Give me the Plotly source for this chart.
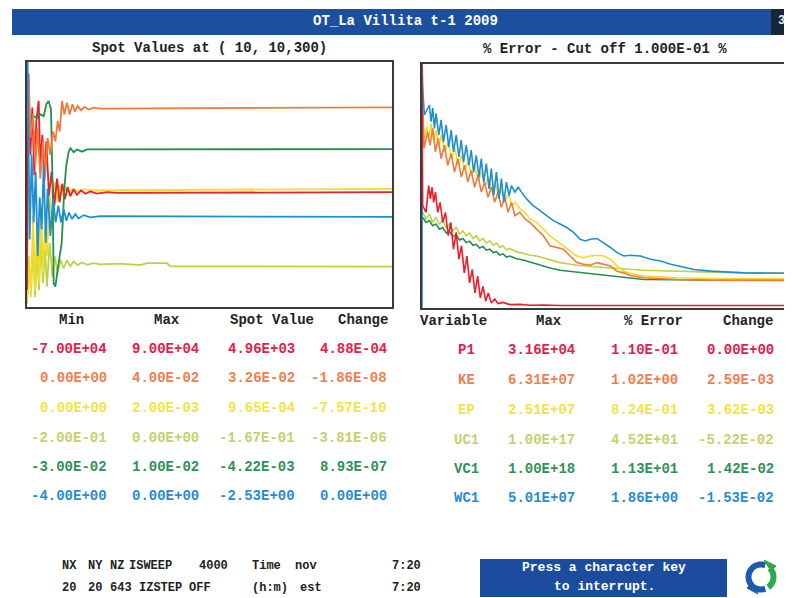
import math
import plotly.graph_objects as go

W, H = 792, 598

# ---------------- table data ----------------
variables = ["P1", "KE", "EP", "UC1", "VC1", "WC1"]
line_colors = ["#e8202c", "#f07a38", "#f2dc28", "#bcd24a", "#23904a", "#1f8fd2"]
text_colors = ["#e2204c", "#ee8050", "#f0e448", "#c6d070", "#2f9158", "#2a8ccf"]

spot_min = [-7.00e4, 0.00e0, 0.00e0, -2.00e-1, -3.00e-2, -4.00e0]
spot_max = [9.00e4, 4.00e-2, 2.00e-3, 0.00e0, 1.00e-2, 0.00e0]
spot_value = [4.96e3, 3.26e-2, 9.65e-4, -1.67e-1, -4.22e-3, -2.53e0]
spot_change = [4.88e-4, -1.86e-8, -7.57e-10, -3.81e-6, 8.93e-7, 0.00e0]

err_max = [3.16e4, 6.31e7, 2.51e7, 1.00e17, 1.00e18, 5.01e7]
err_pct = [1.10e-1, 1.02e0, 8.24e-1, 4.52e1, 1.13e1, 1.86e0]
err_change = [0.00e0, 2.59e-3, 3.62e-3, -5.22e-2, 1.42e-2, -1.53e-2]

n_sweeps = 4000

# ---------------- spot-value history (percent of min..max range) ----------------
p1_spot_sweep = [0, 15, 37, 58, 80, 102, 128, 146, 168, 190, 212, 241, 270, 300, 329, 358, 387, 416, 446, 475, 511, 548, 592, 639, 694, 767, 877, 986]
p1_spot_pct = [6.9, 95.2, 62.1, 81.4, 53.8, 75.9, 84.1, 57.9, 70.3, 51.0, 67.6, 45.5, 55.2, 41.4, 52.4, 42.8, 50.3, 44.1, 49.0, 45.2, 48.0, 45.8, 47.6, 46.2, 47.2, 46.3, 46.9, 46.6]

ke_spot_sweep = [0, 18, 37, 66, 91, 117, 146, 175, 201, 226, 256, 285, 311, 336, 358, 384, 409, 438, 468, 497, 526, 555, 592, 628, 676, 731, 804]
ke_spot_pct = [89.7, 95.2, 69.0, 78.6, 57.9, 73.1, 52.4, 67.6, 55.2, 69.0, 62.1, 71.7, 67.6, 75.9, 71.7, 84.1, 78.6, 83.4, 78.6, 82.8, 79.7, 82.1, 80.3, 81.7, 80.6, 81.4, 81.0]

ep_spot_sweep = [0, 22, 44, 66, 88, 110, 132, 153, 175, 197, 219, 248, 278, 307, 336, 365, 395, 424, 460, 504, 555, 621, 731]
ep_spot_pct = [2.8, 20.7, 4.1, 37.2, 6.9, 34.5, 9.7, 41.4, 13.8, 31.7, 20.7, 45.5, 31.7, 51.0, 42.8, 49.7, 45.5, 49.0, 46.6, 48.3, 47.2, 48.0, 47.6]

uc1_spot_sweep = [0, 22, 44, 66, 88, 110, 132, 153, 175, 197, 219, 248, 278, 307, 336, 365, 402, 438, 475, 511, 555, 603, 658, 731, 804, 1023, 1242, 1315, 1534, 1571]
uc1_spot_pct = [1.4, 17.9, 6.9, 26.2, 4.1, 22.1, 6.9, 29.0, 9.7, 23.4, 8.3, 26.2, 12.4, 20.7, 13.8, 19.3, 15.9, 19.0, 16.6, 18.6, 17.1, 18.2, 17.2, 17.9, 17.4, 17.7, 17.1, 17.9, 17.9, 16.6]

vc1_spot_sweep = [0, 37, 73, 110, 146, 183, 212, 237, 263, 281, 292, 311, 336, 358, 380, 395, 409, 431, 457, 475, 511, 548, 603, 658]
vc1_spot_pct = [74.5, 75.9, 77.9, 77.2, 78.6, 77.9, 82.8, 84.1, 80.7, 48.3, 9.7, 8.3, 15.2, 20.7, 26.2, 37.2, 48.3, 57.9, 63.4, 64.8, 63.2, 64.3, 63.4, 64.3]

wc1_spot_sweep = [0, 7, 29, 51, 73, 95, 117, 139, 161, 183, 205, 226, 256, 285, 314, 343, 373, 402, 431, 460, 493, 530, 566, 621, 694, 804]
wc1_spot_pct = [100, 100, 27.6, 62.1, 34.5, 55.2, 20.7, 44.8, 31.7, 57.9, 26.2, 48.3, 29.0, 44.1, 34.5, 41.4, 34.5, 40.0, 35.2, 38.6, 35.9, 37.9, 36.1, 37.5, 36.6, 37.1]

# ---------------- % error history (percent of plot scale) ----------------
p1_err_sweep = [0, 7, 44, 73, 92, 110, 128, 147, 172, 198, 227, 256, 286, 315, 344, 374, 403, 432, 462, 491, 520, 549, 579, 608, 637, 667, 696, 725, 758, 795, 831, 886, 960, 1070, 1179, 1326, 1509, 4000]
p1_err_pct = [99.8, 42.0, 39.2, 50.2, 44.7, 49.5, 43.3, 47.5, 39.2, 43.3, 35.1, 39.2, 29.6, 35.1, 24.1, 31.0, 20.0, 25.5, 14.4, 21.3, 10.3, 15.8, 6.2, 13.1, 4.1, 8.9, 2.8, 6.2, 2.1, 3.7, 1.8, 2.3, 1.4, 1.5, 1.1, 1.2, 1.0, 1.0]

ke_err_sweep = [0, 22, 62, 88, 117, 147, 176, 209, 245, 282, 319, 355, 392, 429, 465, 502, 538, 575, 612, 648, 685, 722, 758, 795, 831, 868, 905, 941, 978, 1015, 1070, 1125, 1179, 1253, 1326, 1399, 1473, 1546, 1619, 1692, 1766, 1839, 1912, 1985, 2059, 2132, 2205, 2278, 2425, 2791, 3157, 4000]
ke_err_pct = [98.4, 65.4, 72.2, 66.7, 73.6, 64.0, 69.5, 61.2, 66.7, 58.5, 63.3, 55.7, 61.2, 53.7, 58.5, 51.6, 56.4, 49.5, 54.4, 47.5, 51.6, 45.4, 49.5, 43.3, 47.5, 41.3, 45.4, 39.2, 43.3, 37.8, 39.2, 36.5, 35.1, 32.3, 29.6, 25.5, 24.8, 24.1, 21.3, 18.6, 17.9, 17.5, 18.6, 17.9, 17.2, 15.1, 14.4, 13.3, 12.4, 11.7, 11.4, 11.3]

ep_err_sweep = [26, 51, 73, 99, 125, 154, 183, 212, 249, 286, 322, 359, 396, 432, 469, 505, 542, 579, 615, 652, 689, 725, 762, 799, 835, 872, 908, 945, 982, 1018, 1070, 1125, 1179, 1253, 1326, 1399, 1473, 1546, 1619, 1692, 1766, 1839, 1912, 1985, 2059, 2132, 2205, 2278, 2425, 2791, 3157, 4000]
ep_err_pct = [69.5, 74.3, 69.5, 75.7, 68.8, 72.9, 66.0, 70.9, 64.0, 68.1, 61.2, 65.4, 58.5, 62.6, 56.4, 59.9, 54.4, 57.8, 52.3, 55.7, 50.2, 53.7, 48.2, 51.6, 46.1, 48.8, 44.0, 46.8, 42.0, 43.3, 40.6, 39.2, 36.5, 35.1, 32.3, 29.6, 27.5, 25.5, 23.4, 21.3, 20.6, 21.3, 21.6, 21.3, 20.0, 17.2, 15.1, 14.2, 13.1, 12.4, 12.1, 12.0]

uc1_err_sweep = [7, 44, 81, 117, 154, 190, 227, 264, 300, 337, 374, 410, 447, 484, 520, 557, 593, 630, 667, 703, 740, 777, 813, 850, 886, 923, 960, 1033, 1106, 1179, 1253, 1326, 1399, 1509, 1692, 1875, 2059, 2425, 2791, 3157, 3524, 4000]
uc1_err_pct = [39.2, 36.5, 38.5, 35.1, 37.2, 34.4, 35.8, 33.0, 34.4, 31.6, 33.0, 30.3, 31.6, 29.6, 30.7, 28.5, 29.6, 27.5, 28.5, 26.6, 27.5, 25.7, 26.6, 24.8, 25.5, 23.8, 24.4, 23.0, 22.4, 21.6, 21.3, 20.6, 19.7, 18.6, 17.5, 16.9, 16.4, 15.5, 15.0, 14.7, 14.4, 14.4]

vc1_err_sweep = [7, 44, 81, 117, 154, 190, 227, 264, 300, 337, 374, 410, 447, 484, 520, 557, 593, 630, 667, 703, 740, 777, 813, 850, 886, 923, 960, 1033, 1106, 1179, 1253, 1326, 1399, 1509, 1692, 1875, 2059, 2242, 2425, 2791, 3157, 4000]
vc1_err_pct = [37.2, 35.1, 35.8, 33.7, 34.4, 32.3, 33.0, 30.7, 31.2, 29.3, 29.9, 27.9, 28.5, 26.8, 27.4, 25.7, 26.1, 24.6, 25.2, 23.7, 24.1, 22.7, 23.1, 21.7, 22.2, 20.9, 21.3, 20.2, 19.7, 18.9, 17.9, 17.2, 16.4, 15.5, 14.7, 13.8, 13.1, 12.2, 11.7, 11.6, 11.4, 11.4]

wc1_err_sweep = [0, 2, 7, 26, 62, 81, 99, 117, 136, 154, 183, 209, 234, 264, 293, 319, 344, 374, 403, 429, 454, 484, 513, 538, 564, 593, 623, 648, 674, 703, 733, 758, 784, 813, 842, 868, 894, 923, 952, 978, 1015, 1051, 1088, 1143, 1216, 1289, 1363, 1436, 1509, 1582, 1656, 1729, 1784, 1839, 1912, 1985, 2059, 2132, 2205, 2278, 2388, 2498, 2608, 2718, 2828, 2974, 3157, 3341, 3524, 4000]
wc1_err_pct = [0, 100, 90.1, 79.1, 81.9, 83.2, 76.4, 81.9, 73.6, 79.8, 70.9, 77.1, 68.1, 75.0, 66.0, 72.9, 64.0, 70.9, 61.9, 68.8, 59.9, 66.7, 58.5, 64.7, 55.7, 62.6, 53.7, 61.2, 51.6, 59.2, 48.8, 57.1, 46.1, 55.7, 44.7, 53.0, 43.3, 51.6, 46.1, 50.2, 47.5, 49.5, 47.5, 44.7, 42.0, 39.9, 37.8, 35.8, 34.4, 33.0, 31.0, 28.2, 27.5, 28.2, 28.5, 26.8, 24.8, 22.7, 21.3, 21.6, 21.3, 20.0, 19.3, 17.9, 16.9, 15.8, 15.1, 14.7, 14.4, 14.2]

# ---------------- text labels ----------------
title_text = "OT_La Villita t-1 2009"
page_number = "3"
left_title = "Spot Values at ( 10, 10,300)"
right_title = "% Error - Cut off 1.000E-01 %"
left_headers = ["Min", "Max", "Spot Value", "Change"]
right_headers = ["Variable", "Max", "% Error", "Change"]
status_row1 = ["NX", "NY", "NZ", "ISWEEP", "4000", "Time", "nov", "7:20"]
status_row2 = ["20", "20", "643", "IZSTEP", "OFF", "(h:m)", "est", "7:20"]
button_lines = ["Press a character key", "to interrupt."]

# =====================================================================
FONT = "Liberation Mono, Courier New, monospace"
OFF = 8  # the page body margin shifts the figure by 8 px; compensate


def px(x):
    return (x - OFF) / W


def py(y):
    return 1 - (y - OFF) / H


spot_sweeps = [p1_spot_sweep, ke_spot_sweep, ep_spot_sweep, uc1_spot_sweep, vc1_spot_sweep, wc1_spot_sweep]
spot_pcts = [p1_spot_pct, ke_spot_pct, ep_spot_pct, uc1_spot_pct, vc1_spot_pct, wc1_spot_pct]
err_sweeps = [p1_err_sweep, ke_err_sweep, ep_err_sweep, uc1_err_sweep, vc1_err_sweep, wc1_err_sweep]
err_pcts = [p1_err_pct, ke_err_pct, ep_err_pct, uc1_err_pct, vc1_err_pct, wc1_err_pct]

fig = go.Figure()

left_order = [3, 2, 0, 4, 1, 5]
for i in left_order:
    final = (spot_value[i] - spot_min[i]) / (spot_max[i] - spot_min[i]) * 100
    fig.add_trace(go.Scatter(
        x=spot_sweeps[i] + [n_sweeps], y=spot_pcts[i] + [final],
        mode="lines", line=dict(color=line_colors[i], width=1.8),
        xaxis="x", yaxis="y", showlegend=False, hoverinfo="skip"))

right_order = [4, 3, 2, 1, 5, 0]
for i in right_order:
    fig.add_trace(go.Scatter(
        x=err_sweeps[i], y=err_pcts[i],
        mode="lines", line=dict(color=line_colors[i], width=1.6),
        xaxis="x2", yaxis="y2", showlegend=False, hoverinfo="skip"))

axis_common = dict(showline=True, mirror=True, linecolor="#3a3a3a", linewidth=1.6,
                   showgrid=False, zeroline=False, showticklabels=False, ticks="")

fig.update_layout(
    width=W, height=H, autosize=False,
    margin=dict(l=0, r=0, t=0, b=0),
    paper_bgcolor="white", plot_bgcolor="white",
    xaxis=dict(domain=[px(27), px(392)], range=[0, n_sweeps], anchor="y", **axis_common),
    yaxis=dict(domain=[py(307), py(62)], range=[0, 100], anchor="x", **axis_common),
    xaxis2=dict(domain=[px(422), px(788)], range=[0, n_sweeps], anchor="y2", **axis_common),
    yaxis2=dict(domain=[py(308), py(64)], range=[0, 100], anchor="x2", **axis_common),
)

shapes = []
annotations = []


def text(x, y, s, color="#222", size=14, anchor="center", bold=True):
    annotations.append(dict(
        x=px(x), y=py(y), xref="paper", yref="paper", showarrow=False,
        text=("<b>%s</b>" % s) if bold else s, xanchor=anchor, yanchor="middle",
        font=dict(family=FONT, size=size, color=color)))


# title bar
shapes.append(dict(type="rect", xref="paper", yref="paper", x0=px(12), x1=px(800),
                   y0=py(35), y1=py(9), fillcolor="#1d4f9f", line=dict(width=0), layer="below"))
shapes.append(dict(type="rect", xref="paper", yref="paper", x0=px(771), x1=px(800),
                   y0=py(35), y1=py(9), fillcolor="#17263a", line=dict(width=0), layer="below"))
text(406, 21, title_text, color="white", size=14)
text(781, 21, page_number, color="#e8e8e8", size=12)

# sub titles
text(209, 48, left_title, size=14)
text(605, 49, right_title, size=14)

# left table
left_header_x = [71, 167, 272, 363]
left_value_x = [109, 201, 297, 389]
left_rows_y = [349, 378, 408, 438, 467, 496]
for hx, h in zip(left_header_x, left_headers):
    text(hx, 320, h, size=14)
for r in range(len(variables)):
    cols = [spot_min[r], spot_max[r], spot_value[r], spot_change[r]]
    for cx, v in zip(left_value_x, cols):
        text(cx, left_rows_y[r], format(v, ".2E"), color=text_colors[r], size=14, anchor="right")

# right table
right_header_x = [453, 549, 653, 748]
right_value_x = [577, 680, 776]
right_rows_y = [350, 380, 410, 440, 469, 498]
for hx, h in zip(right_header_x, right_headers):
    text(hx, 321, h, size=14)
for r in range(len(variables)):
    text(466, right_rows_y[r], variables[r], color=text_colors[r], size=14)
    cols = [err_max[r], err_pct[r], err_change[r]]
    for cx, v in zip(right_value_x, cols):
        text(cx, right_rows_y[r], format(v, ".2E"), color=text_colors[r], size=14, anchor="right")

# status rows
row1_x = [60, 86, 108, 127, 197, 250, 293, 390]
row2_x = [60, 86, 108, 137, 187, 250, 298, 390]
for x, s in zip(row1_x, status_row1):
    text(x, 566, s, size=12, anchor="left")
for x, s in zip(row2_x, status_row2):
    text(x, 588, s, size=12, anchor="left")

# button
shapes.append(dict(type="rect", xref="paper", yref="paper", x0=px(480), x1=px(727),
                   y0=py(597), y1=py(559), fillcolor="#1b4c9e", line=dict(width=0), layer="below"))
text(604, 567, button_lines[0], color="white", size=13)
text(604, 586, button_lines[1], color="white", size=13)


# logo: blue C arc + green arrow arc
def arc_path(cx, cy, r, a0, a1, n=24):
    pts = []
    for k in range(n + 1):
        a = math.radians(a0 + (a1 - a0) * k / n)
        pts.append((px(cx + r * math.cos(a)), py(cy - r * math.sin(a))))
    return "M " + " L ".join("%.5f,%.5f" % p for p in pts)


shapes.append(dict(type="path", xref="paper", yref="paper",
                   path=arc_path(761, 577, 12.5, 70, 290), line=dict(color="#1c5bb0", width=6)))
shapes.append(dict(type="path", xref="paper", yref="paper",
                   path=arc_path(761, 577, 12.5, -55, 45), line=dict(color="#2fa84a", width=6)))
shapes.append(dict(type="path", xref="paper", yref="paper",
                   path="M %.5f,%.5f L %.5f,%.5f L %.5f,%.5f Z" % (px(764), py(560), px(776), py(566), px(771), py(571)),
                   fillcolor="#2fa84a", line=dict(color="#2fa84a", width=1)))
shapes.append(dict(type="path", xref="paper", yref="paper",
                   path="M %.5f,%.5f L %.5f,%.5f L %.5f,%.5f Z" % (px(758), py(594), px(747), py(588), px(752), py(583)),
                   fillcolor="#1c5bb0", line=dict(color="#1c5bb0", width=1)))

fig.update_layout(shapes=shapes, annotations=annotations)
fig.write_html("out.html")
